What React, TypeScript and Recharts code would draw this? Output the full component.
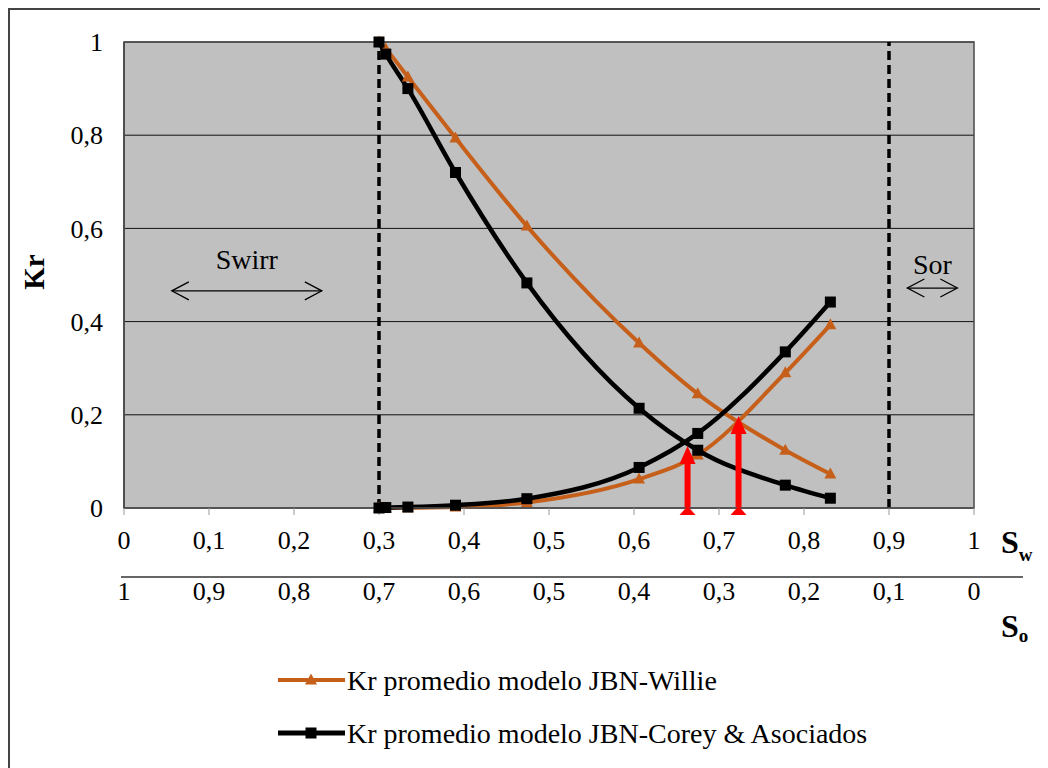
import React from 'react';
import {
  ComposedChart, Line, XAxis, YAxis, CartesianGrid, ReferenceLine, ReferenceDot, ReferenceArea,
} from 'recharts';

const FONT = '"Liberation Serif", "Times New Roman", serif';

// Water saturation (Sw) of the measured points
const swValues = [0.300, 0.308, 0.334, 0.390, 0.474, 0.606, 0.675, 0.778, 0.831];
// Kr promedio modelo JBN-Willie
const kroWillie = [1.0, 0.985, 0.925, 0.794, 0.605, 0.354, 0.245, 0.124, 0.073];
const krwWillie = [0, 0, 0.0005, 0.002, 0.012, 0.062, 0.114, 0.29, 0.393];
// Kr promedio modelo JBN-Corey & Asociados
const kroCorey = [1.0, 0.974, 0.90, 0.72, 0.483, 0.214, 0.124, 0.049, 0.021];
const krwCorey = [0, 0.001, 0.002, 0.006, 0.02, 0.087, 0.16, 0.335, 0.442];

const seriesNames = ['Kr promedio modelo JBN-Willie', 'Kr promedio modelo JBN-Corey & Asociados'];
const seriesColors = ['#C65F1A', '#000000'];

// Red crossing arrows
const arrowX = [0.663, 0.723];
const arrowTop = [0.129, 0.193];

// Saturation limits (Swirr, 1 - Sor)
const limitLines = [0.3, 0.9];

const swTicks = [0, 0.1, 0.2, 0.3, 0.4, 0.5, 0.6, 0.7, 0.8, 0.9, 1];
const soTicks = [0, 0.1, 0.2, 0.3, 0.4, 0.5, 0.6, 0.7, 0.8, 0.9, 1];
const krTicks = [0, 0.2, 0.4, 0.6, 0.8, 1];

const annotations = [
  { text: 'Swirr', x: 0.1445, y: 0.466, half: 75, textDy: -22 },
  { text: 'Sor', x: 0.951, y: 0.472, half: 25, textDy: -14 },
];

const data = swValues.map((sw, i) => ({
  sw,
  so: 1 - sw,
  kroW: kroWillie[i],
  krwW: krwWillie[i],
  kroC: kroCorey[i],
  krwC: krwCorey[i],
}));

const fmt = (v: number) => String(Math.round(v * 10) / 10).replace('.', ',');

const Triangle = (props: any) => {
  const { cx, cy } = props;
  if (cx == null || cy == null) return null;
  return <path d={`M${cx},${cy - 6.5} L${cx + 6},${cy + 4.5} L${cx - 6},${cy + 4.5} Z`} fill={seriesColors[0]} />;
};

const Square = (props: any) => {
  const { cx, cy } = props;
  if (cx == null || cy == null) return null;
  return <rect x={cx - 5.5} y={cy - 5.5} width={11} height={11} fill="#000" />;
};

const makeDoubleArrow = (a: typeof annotations[number]) => (props: any) => {
  const { cx, cy } = props;
  const x1 = cx - a.half;
  const x2 = cx + a.half;
  return (
    <g>
      <text x={cx} y={cy + a.textDy} textAnchor="middle" fontSize={28} fontFamily={FONT} fill="#000">{a.text}</text>
      <line x1={x1} y1={cy} x2={x2} y2={cy} stroke="#000" strokeWidth={1.3} />
      <polyline points={`${x1 + 17},${cy - 9} ${x1},${cy} ${x1 + 17},${cy + 9}`} fill="none" stroke="#000" strokeWidth={1.3} />
      <polyline points={`${x2 - 17},${cy - 9} ${x2},${cy} ${x2 - 17},${cy + 9}`} fill="none" stroke="#000" strokeWidth={1.3} />
    </g>
  );
};

const ArrowHead = (props: any) => {
  const { cx, cy } = props;
  return <path d={`M${cx},${cy - 2} L${cx + 8},${cy + 16} L${cx - 8},${cy + 16} Z`} fill="#FF0000" />;
};

const ArrowTail = (props: any) => {
  const { cx, cy } = props;
  return <path d={`M${cx},${cy - 2} L${cx + 8},${cy + 7} L${cx - 8},${cy + 7} Z`} fill="#FF0000" />;
};

export default function App() {
  return (
    <div style={{ position: 'relative', width: 1040, height: 760, background: '#fff', boxShadow: 'inset 2px 2px 0 #444' }}>
      <ComposedChart
        width={1040}
        height={760}
        data={data}
        margin={{ top: 34, right: 74, left: 56, bottom: 160 }}
        style={{ fontFamily: FONT }}
      >
        <CartesianGrid vertical={false} stroke="#111" strokeWidth={1} fill="#C0C0C0" fillOpacity={1} />
        <XAxis
          dataKey="sw"
          type="number"
          domain={[0, 1]}
          ticks={swTicks}
          tickFormatter={fmt}
          height={40}
          tickSize={7}
          tickMargin={16}
          axisLine={{ stroke: '#555', strokeWidth: 1.5 }}
          tickLine={{ stroke: '#999' }}
          tick={{ fontSize: 26, fill: '#000', fontFamily: FONT }}
          interval={0}
          allowDataOverflow
        />
        <XAxis
          xAxisId="so"
          dataKey="so"
          type="number"
          domain={[0, 1]}
          reversed
          ticks={soTicks}
          tickFormatter={fmt}
          height={60}
          tickSize={0}
          tickMargin={34}
          axisLine={false}
          tickLine={false}
          tick={{ fontSize: 26, fill: '#000', fontFamily: FONT }}
          interval={0}
          allowDataOverflow
        />
        <YAxis
          type="number"
          domain={[0, 1]}
          ticks={krTicks}
          tickFormatter={fmt}
          width={60}
          tickSize={0}
          tickMargin={21}
          axisLine={{ stroke: '#444', strokeWidth: 1.5 }}
          tickLine={false}
          tick={{ fontSize: 26, fill: '#000', fontFamily: FONT }}
          interval={0}
        />
        <ReferenceArea x1={0} x2={1} y1={0} y2={1} fill="none" stroke="#4a4a4a" strokeWidth={1.5} ifOverflow="visible" />
        {limitLines.map((v) => (
          <ReferenceLine key={v} x={v} stroke="#000" strokeWidth={3.5} strokeDasharray="9 5" />
        ))}
        {annotations.map((a) => (
          <ReferenceDot key={a.text} x={a.x} y={a.y} r={1} shape={makeDoubleArrow(a)} ifOverflow="visible" />
        ))}
        <Line xAxisId="so" dataKey="kroW" stroke="none" dot={false} legendType="none" isAnimationActive={false} activeDot={false} hide />
        <Line type="monotone" dataKey="kroW" stroke={seriesColors[0]} strokeWidth={4} dot={<Triangle />} isAnimationActive={false} activeDot={false} />
        <Line type="monotone" dataKey="krwW" stroke={seriesColors[0]} strokeWidth={4} dot={<Triangle />} isAnimationActive={false} activeDot={false} />
        <Line type="monotone" dataKey="kroC" stroke={seriesColors[1]} strokeWidth={4.5} dot={<Square />} isAnimationActive={false} activeDot={false} />
        <Line type="monotone" dataKey="krwC" stroke={seriesColors[1]} strokeWidth={4.5} dot={<Square />} isAnimationActive={false} activeDot={false} />
        {arrowX.map((x, i) => (
          <ReferenceLine
            key={'s' + i}
            segment={[{ x, y: 0 }, { x, y: arrowTop[i] - 0.02 }]}
            stroke="#FF0000"
            strokeWidth={6}
            ifOverflow="visible"
          />
        ))}
        {arrowX.map((x, i) => (
          <ReferenceDot key={'h' + i} x={x} y={arrowTop[i]} r={1} shape={<ArrowHead />} ifOverflow="visible" />
        ))}
        {arrowX.map((x, i) => (
          <ReferenceDot key={'t' + i} x={x} y={0} r={1} shape={<ArrowTail />} ifOverflow="visible" />
        ))}
      </ComposedChart>
      <svg
        width={1040}
        height={760}
        style={{ position: 'absolute', left: 0, top: 0, pointerEvents: 'none', fontFamily: FONT }}
      >
        <text x={26} y={264} transform="rotate(-90 26 264)" textAnchor="middle" dominantBaseline="central" fontSize={29} fontWeight="bold" fill="#000">Kr</text>
        <text x={993} y={545} fontSize={32} fontWeight="bold" fill="#000">S<tspan fontSize={19} dy={8}>w</tspan></text>
        <line x1={113} y1={569} x2={1015} y2={569} stroke="#333" strokeWidth={1.5} />
        <text x={993} y={629} fontSize={32} fontWeight="bold" fill="#000">S<tspan fontSize={19} dy={5}>o</tspan></text>
        {seriesNames.map((name, i) => {
          const y = 672 + i * 53;
          return (
            <g key={name}>
              <line x1={270} y1={y} x2={337} y2={y} stroke={seriesColors[i]} strokeWidth={i === 0 ? 4 : 5} />
              {i === 0 ? <Triangle cx={303} cy={y} /> : <Square cx={303} cy={y} />}
              <text x={339} y={y + 10} fontSize={28} fill="#000">{name}</text>
            </g>
          );
        })}
      </svg>
    </div>
  );
}
